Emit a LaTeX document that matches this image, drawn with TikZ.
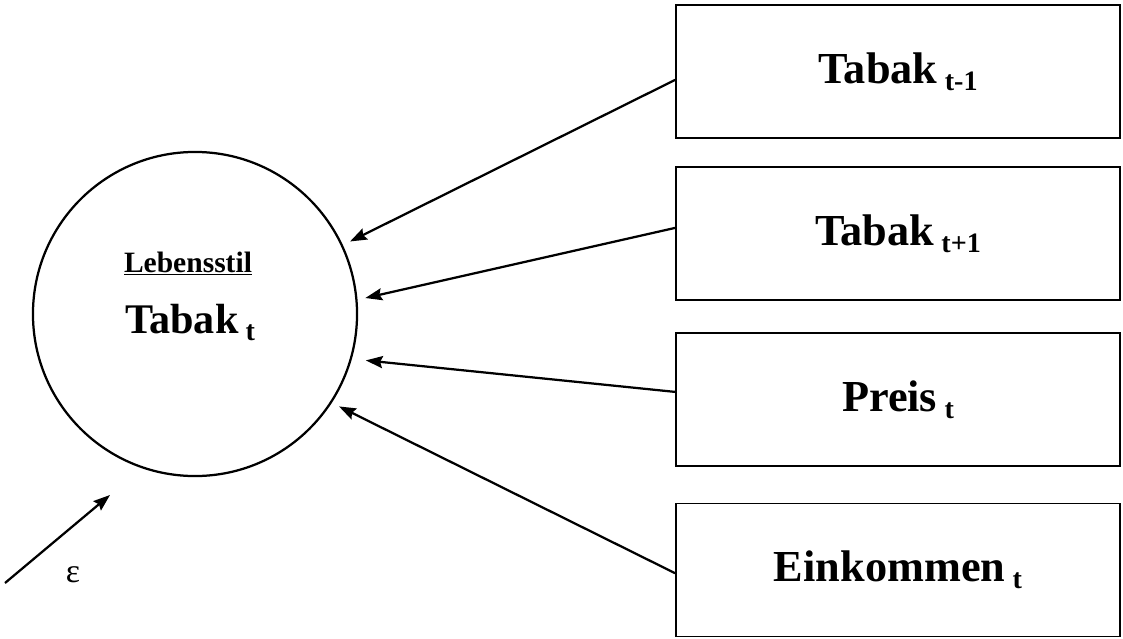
\documentclass[tikz,border=0pt]{standalone}
\usepackage{fontspec}
\setmainfont{Liberation Serif}
\usetikzlibrary{arrows.meta}

\newcommand{\lowidx}[1]{\raisebox{-5pt}{\fontsize{20}{24}\selectfont #1}}

\tikzset{
  varbox/.style={draw, line width=1.2pt, minimum width=11.1cm, minimum height=3.33cm,
    font=\fontsize{31.5}{36}\selectfont\bfseries},
  pfeil/.style={-{Stealth[length=4.2mm,width=3mm,inset=0.6mm]}, line width=1.6pt, shorten >=2mm}
}

\begin{document}
\begin{tikzpicture}[x=0.025cm,y=-0.025cm]
\useasboundingbox (0,0) rectangle (1123,638);

% Konstrukt
\node[circle, draw, line width=1.6pt, minimum size=8.1cm] (lifestyle) at (195,314) {};
\node[anchor=base, font=\fontsize{21}{25}\selectfont\bfseries] (lstitle) at (188,272) {\underline{Lebensstil}};
\node[anchor=base, font=\fontsize{30}{36}\selectfont\bfseries] (lsvar) at (190,333) {Tabak\,\lowidx{t}};

% Indikatoren
\node[varbox] (tabprev) at (898,71.5) {Tabak\,\lowidx{t-1}};
\node[varbox] (tabnext) at (898,233.5) {Tabak\,\lowidx{t+1}};
\node[varbox] (preis) at (898,399.5) {Preis\,\lowidx{t}};
\node[varbox] (einkommen) at (898,570) {Einkommen\,\lowidx{t}};

% Pfeile
\draw[pfeil] ([yshift=-2.1mm]tabprev.west) -- (lifestyle.25);
\draw[pfeil] ([yshift=1.4mm]tabnext.west) -- (lifestyle.5);
\draw[pfeil, shorten >=3.5mm] ([yshift=1.9mm]preis.west) -- (lifestyle.-16);
\draw[pfeil] ([yshift=-0.8mm]einkommen.west) -- (lifestyle.-33);

% Fehlerterm
\coordinate (epsstart) at (5,583);
\coordinate (epsend) at (110,495);
\draw[pfeil, shorten >=0pt] (epsstart) -- (epsend);
\node[font=\fontsize{24}{28}\selectfont] (epslabel) at (73,575) {ε};
\end{tikzpicture}
\end{document}
